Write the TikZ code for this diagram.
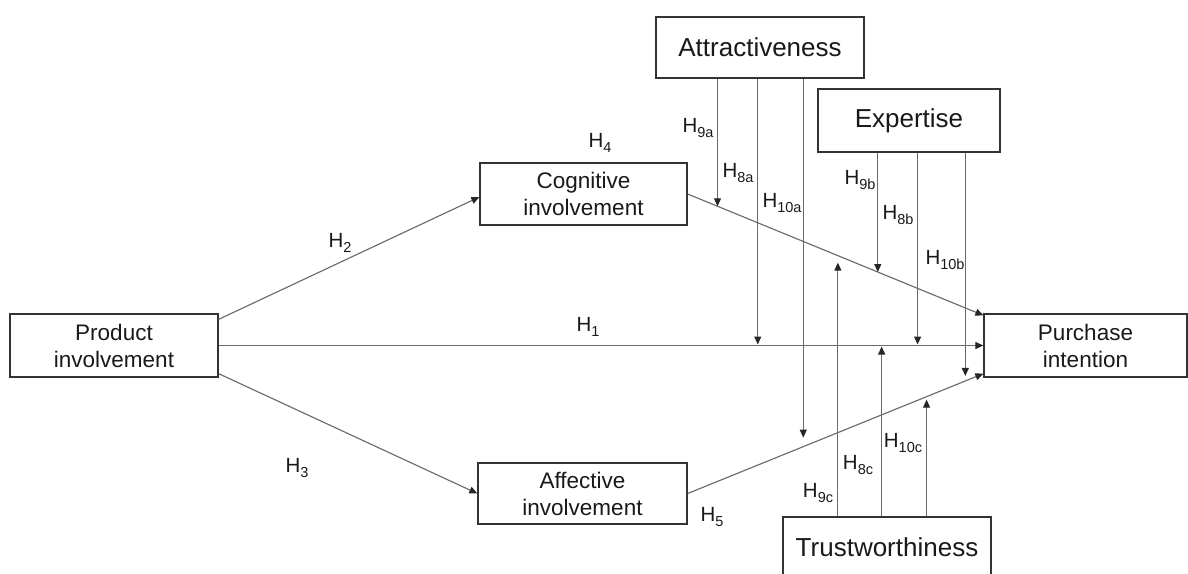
\documentclass[tikz,border=0pt]{standalone}
\usepackage{fontspec}
\setmainfont{Liberation Sans}
\usetikzlibrary{arrows.meta,calc}
\newcommand\hyp[1]{H\raisebox{-5pt}{\fontsize{14.5}{14.5}\selectfont #1}}
\begin{document}
\begin{tikzpicture}[x=1pt,y=-1pt,
  box/.style={draw=black!80, line width=1.3pt, inner sep=0pt, align=center,
    text=black!90, font=\fontsize{22.5}{27}\selectfont},
  bigbox/.style={box, font=\fontsize{26}{30}\selectfont},
  conn/.style={draw=black!58, line width=1.15pt, -{Triangle[length=8pt,width=7pt,color=black!85]}},
  hlab/.style={inner sep=0pt, text=black!90, font=\fontsize{20.5}{24}\selectfont}]
\useasboundingbox (0,0) rectangle (1188,573);
% boxes
\node[box, minimum width=208pt, minimum height=63pt] (prod) at (114,345.5) {Product\\involvement};
\node[box, minimum width=207pt, minimum height=62pt] (cog) at (583.5,194) {Cognitive\\involvement};
\node[box, minimum width=209pt, minimum height=61pt] (aff) at (582.5,493.5) {Affective\\involvement};
\node[box, minimum width=203pt, minimum height=63pt] (pur) at (1085.5,345.5) {Purchase\\intention};
\node[bigbox, minimum width=208pt, minimum height=61pt] (attr) at (760,47.5) {Attractiveness};
\node[bigbox, minimum width=182pt, minimum height=63pt] (exp) at (909,120.5) {Expertise};
\node[bigbox, minimum width=208pt, minimum height=61pt] (trust) at (887,547.5) {Trustworthiness};
% main paths
\draw[conn] ([yshift=-6pt]prod.north east) -- ([yshift=-3pt]cog.west);
\draw[conn] ([yshift=4pt]prod.south east) -- (aff.west);
\draw[conn] (prod.east) -- (pur.west)
  coordinate[pos=0.705] (m8a) coordinate[pos=0.914] (m8b) coordinate[pos=0.867] (m8c);
\draw[conn] (cog.east) -- ([yshift=-2pt]pur.north west)
  coordinate[pos=0.101] (m9a) coordinate[pos=0.643] (m9b) coordinate[pos=0.508] (m9c);
\draw[conn] (aff.east) -- ([yshift=4pt]pur.south west)
  coordinate[pos=0.391] (m10a) coordinate[pos=0.939] (m10b) coordinate[pos=0.808] (m10c);
% moderators: attractiveness
\draw[conn] (attr.south -| m9a) -- (m9a);
\draw[conn] (attr.south -| m8a) -- ([yshift=1pt]m8a);
\draw[conn] (attr.south -| m10a) -- ([yshift=9pt]m10a);
% expertise
\draw[conn] (exp.south -| m9b) -- (m9b);
\draw[conn] (exp.south -| m8b) -- ([yshift=1pt]m8b);
\draw[conn] (exp.south -| m10b) -- ([yshift=5pt]m10b);
% trustworthiness
\draw[conn] (trust.north -| m9c) -- ([yshift=-7pt]m9c);
\draw[conn] (trust.north -| m8c) -- ([yshift=-1pt]m8c);
\draw[conn] (trust.north -| m10c) -- ([yshift=-3pt]m10c);
% labels
\node[hlab] (h1) at (588,327) {\hyp{1}};
\node[hlab] (h2) at (340,243) {\hyp{2}};
\node[hlab] (h3) at (297,468) {\hyp{3}};
\node[hlab] (h4) at (600,143) {\hyp{4}};
\node[hlab] (h5) at (712,517) {\hyp{5}};
\node[hlab] (h9a) at (698,128) {\hyp{9a}};
\node[hlab] (h8a) at (738,173) {\hyp{8a}};
\node[hlab] (h10a) at (782,203) {\hyp{10a}};
\node[hlab] (h9b) at (860,180) {\hyp{9b}};
\node[hlab] (h8b) at (898,215) {\hyp{8b}};
\node[hlab] (h10b) at (945,260) {\hyp{10b}};
\node[hlab] (h9c) at (818,493) {\hyp{9c}};
\node[hlab] (h8c) at (858,465) {\hyp{8c}};
\node[hlab] (h10c) at (903,443) {\hyp{10c}};
\end{tikzpicture}
\end{document}
